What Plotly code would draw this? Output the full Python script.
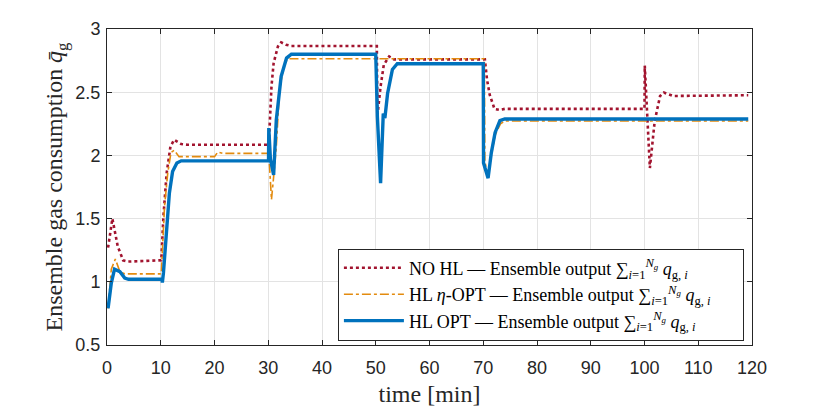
import plotly.graph_objects as go

# NO HL - ensemble output (min, value)
t_nohl = [0.2, 1.0, 2.0, 3.0, 3.9, 10.1, 10.5, 11.1, 11.8, 12.5, 13.8, 15.0, 30.1, 30.3, 30.6, 31.0, 31.8,
          32.4, 33.3, 34.3, 50.2, 50.3, 50.9, 51.5, 52.5, 53.4, 54.5, 70.3, 70.7, 71.2, 72.1, 73.0, 74.0,
          100.0, 100.05, 101.0, 101.9, 102.9, 103.6, 105.3, 119.3]
q_nohl = [1.27, 1.50, 1.28, 1.17, 1.16, 1.17, 1.52, 1.86, 2.07, 2.124, 2.09, 2.084, 2.084, 2.28, 2.546, 2.73, 2.862,
          2.894, 2.876, 2.865, 2.865, 2.31, 2.546, 2.717, 2.783, 2.76, 2.76, 2.76, 2.60, 2.48, 2.367, 2.36, 2.368,
          2.368, 2.71, 1.90, 2.272, 2.47, 2.497, 2.47, 2.476]

# HL eta-OPT
t_eta = [0.2, 0.8, 1.55, 2.4, 3.3, 10.1, 10.7, 11.3, 11.9, 12.5, 13.4, 20.0, 20.6, 21.5, 30.1, 30.4, 30.6,
         31.0, 31.5, 32.1, 33.0, 33.8, 70.2, 70.3, 70.9, 71.5, 72.2, 73.2, 74.0, 119.3]
q_eta = [0.79, 1.10, 1.18, 1.08, 1.063, 1.063, 1.595, 1.86, 2.023, 2.04, 1.99, 1.99, 2.026, 2.016, 2.016, 1.81, 1.65,
         1.83, 2.07, 2.52, 2.73, 2.765, 2.765, 1.95, 1.84, 2.00, 2.16, 2.25, 2.272, 2.272]

# HL OPT
t_opt = [0.2, 0.8, 1.4, 2.4, 3.3, 4.0, 10.2, 10.3, 10.5, 11.0, 11.6, 12.2, 13.0, 13.8, 30.05, 30.1, 30.4, 31.0,
         31.5, 32.4, 33.4, 34.3, 50.0, 50.3, 50.9, 51.4, 51.7, 52.2, 53.1, 54.0, 70.0, 70.05, 70.9, 71.5, 72.2,
         73.1, 74.0, 119.3]
q_opt = [0.79, 0.99, 1.10, 1.08, 1.03, 1.02, 1.02, 0.994, 1.07, 1.385, 1.70, 1.873, 1.94, 1.957, 1.957, 2.216, 1.97, 1.846,
         2.28, 2.625, 2.77, 2.80, 2.80, 2.308, 1.78, 2.33, 2.295, 2.49, 2.68, 2.725, 2.725, 1.94, 1.82, 2.02, 2.18,
         2.276, 2.288, 2.288]

x_ticks = list(range(0, 121, 10))
y_ticks = [0.5, 1, 1.5, 2, 2.5, 3]
y_labels = ["0.5", "1", "1.5", "2", "2.5", "3"]

sum_txt = " — Ensemble output ∑<sub><i>i</i>=1</sub><sup><i>N<sub>g</sub></i></sup> <i>q</i><sub>g, <i>i</i></sub>"
pad = "\u00a0" * 6

fig = go.Figure()
fig.add_trace(go.Scatter(x=t_nohl, y=q_nohl, mode="lines", name="NO HL" + sum_txt,
                         line=dict(color="#A2142F", width=2.6, dash="dot")))
fig.add_trace(go.Scatter(x=t_eta, y=q_eta, mode="lines", name="HL <i>η</i>-OPT" + sum_txt + pad,
                         line=dict(color="#E38B0F", width=1.6, dash="dashdot")))
fig.add_trace(go.Scatter(x=t_opt, y=q_opt, mode="lines", name="HL OPT" + sum_txt,
                         line=dict(color="#0072BD", width=3.4)))

axis_style = dict(showline=True, linecolor="#262626", linewidth=1, mirror="ticks", ticks="inside",
                  ticklen=5, tickcolor="#262626", showgrid=True, gridcolor="#E3E3E3", gridwidth=1,
                  zeroline=False, automargin=False,
                  tickfont=dict(family="Liberation Sans, Arial", size=18, color="#262626"))

fig.update_xaxes(range=[0, 120], tickvals=x_ticks, ticklabelstandoff=6,
                 title=dict(text="time [min]", font=dict(family="Liberation Serif, serif", size=24, color="#262626"),
                            standoff=8),
                 **axis_style)
fig.update_yaxes(range=[0.5, 3], tickvals=y_ticks, ticktext=y_labels, ticklabelstandoff=2,
                 title=dict(text="Ensemble gas consumption <i>q̄</i><sub>g</sub>",
                            font=dict(family="Liberation Serif, serif", size=24, color="#262626"), standoff=5),
                 **axis_style)

# page shifts the plot by ~8px (body margin), so margins are set a bit smaller on top/left
fig.update_layout(
    width=830, height=407,
    margin=dict(l=99, r=86, t=21, b=70),
    plot_bgcolor="white", paper_bgcolor="white",
    legend=dict(x=0.358, y=0.305, xanchor="left", yanchor="top",
                bgcolor="white", bordercolor="#262626", borderwidth=1,
                font=dict(family="Liberation Serif, serif", size=18, color="#000000"),
                itemwidth=60, tracegroupgap=0),
)

fig.write_html("out.html")
